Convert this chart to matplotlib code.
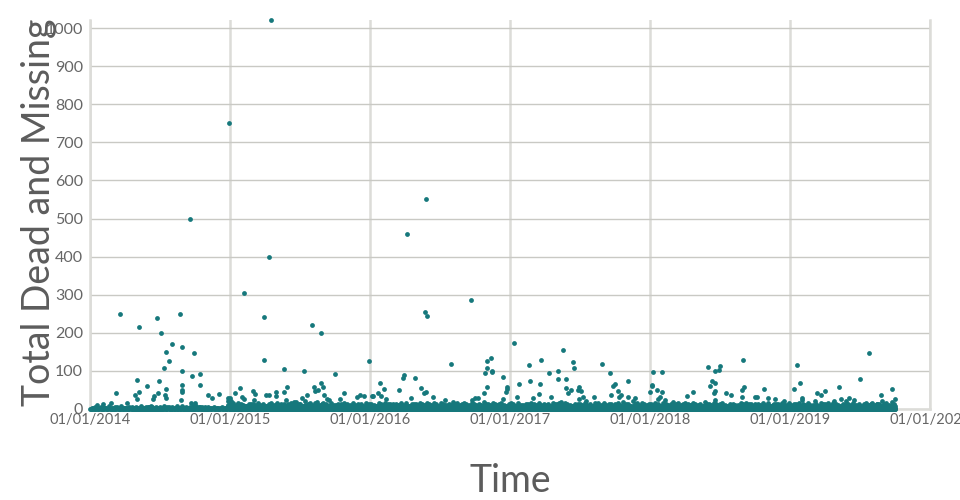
import calendar
import datetime as dt
import matplotlib
matplotlib.use("Agg")
import matplotlib.pyplot as plt
import matplotlib.dates as mdates

plt.rcParams['font.family'] = ['Lato', 'DejaVu Sans']

# ---------------- data ----------------
# individual incidents with larger totals (date, total dead and missing)
outlier_dates = [
    "2014-01-18", "2014-02-05", "2014-02-24", "2014-03-09", "2014-03-21", "2014-04-07",
    "2014-04-28", "2014-05-03", "2014-05-04", "2014-05-08", "2014-05-10", "2014-05-30",
    "2014-06-14", "2014-06-17", "2014-06-25", "2014-06-28", "2014-06-30", "2014-07-05",
    "2014-07-12", "2014-07-15", "2014-07-17", "2014-07-17", "2014-07-18", "2014-07-27",
    "2014-08-03", "2014-08-23", "2014-08-27", "2014-08-28", "2014-08-29", "2014-08-29",
    "2014-08-29", "2014-08-30", "2014-09-20", "2014-09-22", "2014-09-23", "2014-09-28",
    "2014-10-01", "2014-10-14", "2014-10-16", "2014-10-19", "2014-11-04", "2014-11-14",
    "2014-12-03", "2014-12-28", "2014-12-28", "2014-12-28", "2014-12-30",
    "2015-01-02", "2015-01-02", "2015-01-03", "2015-01-03", "2015-01-14", "2015-01-28",
    "2015-02-01", "2015-02-07", "2015-02-07", "2015-03-02", "2015-03-04", "2015-03-07",
    "2015-03-30", "2015-03-30", "2015-04-06", "2015-04-12", "2015-04-14", "2015-04-18",
    "2015-04-30", "2015-05-02", "2015-05-22", "2015-05-23", "2015-05-28", "2015-05-31",
    "2015-06-18", "2015-07-07", "2015-07-14", "2015-07-22", "2015-08-03", "2015-08-08",
    "2015-08-12", "2015-08-17", "2015-08-20", "2015-08-26", "2015-08-26", "2015-08-31",
    "2015-09-04", "2015-09-10", "2015-09-16", "2015-10-03", "2015-10-15", "2015-10-25",
    "2015-11-29", "2015-12-07", "2015-12-16", "2015-12-30",
    "2016-01-06", "2016-01-09", "2016-01-21", "2016-01-28", "2016-01-31", "2016-02-06",
    "2016-02-13", "2016-03-18", "2016-03-27", "2016-03-30", "2016-04-08", "2016-04-16",
    "2016-04-27", "2016-05-13", "2016-05-21", "2016-05-24", "2016-05-26", "2016-05-27",
    "2016-05-28", "2016-06-13", "2016-07-15", "2016-07-31", "2016-08-04", "2016-09-21",
    "2016-09-23", "2016-10-02", "2016-10-10", "2016-10-24", "2016-10-26", "2016-11-01",
    "2016-11-01", "2016-11-02", "2016-11-13", "2016-11-14", "2016-11-15", "2016-12-12",
    "2016-12-14", "2016-12-20", "2016-12-23", "2016-12-24",
    "2017-01-12", "2017-01-19", "2017-01-23", "2017-02-19", "2017-02-21", "2017-03-02",
    "2017-03-16", "2017-03-21", "2017-03-23", "2017-04-13", "2017-04-18", "2017-05-07",
    "2017-05-07", "2017-05-14", "2017-05-19", "2017-05-26", "2017-05-27", "2017-05-31",
    "2017-06-09", "2017-06-15", "2017-06-17", "2017-06-27", "2017-06-29", "2017-06-30",
    "2017-07-05", "2017-07-09", "2017-07-17", "2017-08-08", "2017-08-10", "2017-08-29",
    "2017-09-19", "2017-09-21", "2017-09-27", "2017-10-02", "2017-10-08", "2017-10-13",
    "2017-10-16", "2017-11-03", "2017-11-05", "2017-11-22", "2017-12-31",
    "2018-01-05", "2018-01-05", "2018-01-08", "2018-01-18", "2018-01-22", "2018-01-26",
    "2018-01-31", "2018-02-02", "2018-02-08", "2018-03-02", "2018-04-07", "2018-04-24",
    "2018-06-02", "2018-06-05", "2018-06-11", "2018-06-16", "2018-06-18", "2018-06-19",
    "2018-06-20", "2018-06-20", "2018-06-29", "2018-07-01", "2018-07-17", "2018-07-31",
    "2018-08-28", "2018-08-29", "2018-08-31", "2018-09-02", "2018-10-01", "2018-10-07",
    "2018-10-25", "2018-11-05", "2018-11-22", "2018-12-16",
    "2019-01-11", "2019-01-18", "2019-01-27", "2019-02-01", "2019-02-01", "2019-03-07",
    "2019-03-13", "2019-03-23", "2019-04-01", "2019-04-25", "2019-05-09", "2019-05-15",
    "2019-05-28", "2019-06-03", "2019-06-16", "2019-07-02", "2019-07-17", "2019-07-25",
    "2019-08-01", "2019-08-16", "2019-08-27", "2019-08-30", "2019-09-24", "2019-10-03",
]
outlier_values = [
    10, 13, 15, 42, 250, 15,
    38, 26, 75, 45, 216, 60,
    27, 34, 239, 43, 73, 199,
    108, 38, 150, 28, 52, 127,
    171, 250, 24, 62, 99, 50,
    45, 162, 500, 17, 87, 148,
    17, 62, 93, 6, 36, 28,
    39, 28, 20, 10, 750,
    28, 15, 22, 12, 43, 55,
    32, 305, 27, 48, 24, 39,
    241, 128, 38, 400, 38, 1022,
    34, 44, 45, 104, 24, 58,
    19, 28, 99, 38, 220, 58,
    46, 18, 50, 200, 69, 59,
    36, 25, 24, 93, 25, 41,
    32, 36, 34, 125,
    34, 34, 43, 68, 34, 53,
    26, 50, 82, 88, 459, 30,
    82, 55, 43, 254, 550, 45,
    243, 32, 24, 118, 18, 286,
    24, 28, 28, 41, 95, 126,
    108, 58, 133, 97, 100, 85,
    27, 45, 59, 52,
    174, 31, 66, 116, 73, 28,
    40, 66, 128, 95, 32, 100,
    80, 19, 154, 80, 54, 43,
    50, 124, 108, 50, 27, 57,
    46, 32, 21, 32, 17, 118,
    95, 36, 60, 66, 46, 31,
    38, 73, 32, 28, 45,
    61, 62, 98, 50, 27, 32,
    98, 45, 24, 19, 34, 45,
    109, 60, 74, 41, 68, 47,
    101, 24, 102, 113, 42, 36,
    50, 31, 129, 59, 32, 32,
    52, 28, 26, 20,
    52, 115, 67, 28, 23, 22,
    43, 38, 48, 21, 57, 27,
    21, 30, 24, 80, 14, 148,
    14, 13, 38, 22, 52, 26,
]

# dense low-value incidents: one string per month, char position = day of month,
# char = value in base 36 ('.' = no incident recorded on that layer)
low_2014_a = [
    "0.1..0.2.0..1.0.3..0.1..0..2.0.", ".0..1.0..2.0.1..0..3.0.1..0.2..",
    "0.2.0..1.0.4..0.1.0..2.0..1.0.3", ".1.0.2..0.1.0..3.0.1..0.2.0.1..",
    "0.1.0.2.0.1.0.3.0.1.0.2.0.1.0.4", "1.0.2.0.1.0.5.0.1.0.2.0.1.0.3..",
    "0.1.0.2.0.1.0.3.0.1.0.2.0.4.0.1", "1.0.2.0.1.0.3.0.1.0.2.0.1.0.5.0",
    "0.1.0.2.0.1.0.3.0.1.0.2.0.1.0..", "1.0.2.0.1.0.4.0.1.0.2.0.1.0.3.0",
    "0..1.0..2.0.1..0..3.0.1..0.2.0.", ".0.1..0.2.0..1.0.3..0.1.0..2.0.",
]
low_2014_b = [
    "....3.......5.......2.......6...", "..4.......2.......7.......3.....",
    "......5.......3.......8.......2.", "...2.......6.......4.......3....",
    ".5.....3.....7.....2.....6.....", "...4.....8.....3.....5.....2...",
    ".6.....3.....9.....4.....2.....", "...5.....3.....7.....2.....8...",
    ".3.....6.....2.....4.....7.....", "...7.....2.....5.....3.....6...",
    "....4.......2.......6.......3..", "..3.......5.......2.......8....",
]
low_2015_a = [
    "0102013021030120301201402103012", "1020301240120302103012031020130",
    "0130201203102401302012031024013", "2010320140213021031204013201302",
    "0203102401302130201403120201301", "1302014021302013024012031024013",
    "0210302140123021030412031020143", "3012041302102403120130420130210",
    "0140213020314021302013204102301", "2031024013021040213021302410230",
    "1024013020314020130241023014020", "0312042013024103201402130201340",
]
low_2015_b = [
    "5.7.4.9.6.3.8.5.7.4.6.9.3.5.8.4", ".6.4.8.5.3.7.9.4.6.5.8.3.7.4.6.",
    "7.5.9.4.6.8.3.5.7.4.9.6.5.8.3.6", ".4.8.6.3.7.5.9.4.6.8.5.3.7.6.4.",
    "6.9.5.7.4.8.3.6.a.5.7.4.9.6.5.8", ".5.8.4.a.6.3.7.5.9.4.8.6.3.7.5.",
    "8.4.7.5.9.6.3.a.5.7.4.8.6.9.5.4", ".7.5.9.4.8.6.b.5.3.7.9.4.6.8.5.",
    "6.4.8.5.a.7.3.6.9.5.4.8.7.5.3.6", ".5.7.4.9.6.3.8.5.a.4.7.6.9.3.5.",
    "4.8.6.3.7.5.9.4.6.8.5.3.7.4.6.9", ".6.4.8.5.3.9.6.4.7.5.8.3.6.9.4.",
]
low_2015_c = [
    "..c.....f.......a.....h......e.", "....b......9.......e.....c.....",
    ".e.....a......g.....b.......d..", "...9.......c.....f......a....b.",
    "..h.....b.....e......c.....9...", ".c......f.....a.......i.....d..",
    "...e.....9......k.....c.....f..", "..b......h.....d.......a....e..",
    ".f.....c......9.....g.......b..", "...a......e.....c.......h....9.",
    "..d.....a.......f.....b......c.", ".b......e.....9.......g.....c..",
]
low_2016_a = [
    "1030201402130201302410230120310", "0201302140231020140213020130240",
    "2013024013021304102301402130201", "0301402130201340210320140231020",
    "1204013021302410230142013021304", "0213024102301420130213021402301",
    "3020140231021304120301402130201", "0140230120314021302014023102301",
    "2031020140213021302410320140213", "0120341023012031402130201302410",
    "1302013024102301402130201402130", "0201402130201302410230140213020",
]
low_2016_b = [
    ".7.4.9.5.3.8.6.4.7.5.9.3.6.8.5.", "6.4.8.5.7.3.9.6.4.a.5.7.8.4.6.3",
    ".5.9.6.4.8.3.7.5.a.6.4.8.5.7.9.", "8.5.3.7.6.9.4.5.8.6.3.7.a.5.4.6",
    ".6.8.4.7.5.9.3.6.b.5.7.4.8.6.5.", "5.7.4.9.6.3.8.5.7.4.6.9.3.5.8.4",
    ".4.7.5.8.6.a.4.7.5.3.9.6.8.4.7.", "7.5.9.4.6.8.3.5.7.4.9.6.5.8.3.6",
    ".6.4.8.5.3.7.9.4.6.5.8.3.7.4.6.", "5.9.6.4.8.3.7.5.a.6.4.8.5.7.9.4",
    ".8.5.3.7.6.9.4.5.8.6.3.7.a.5.4.", "6.4.7.5.9.3.6.8.5.4.7.6.9.3.5.8",
]
low_2016_c = [
    "...e......b.....9.......f....c.", "..a.....g......c.....d......9..",
    ".c......e.....a......h.....b...", "....f.....9.......d.....c....e.",
    "..b......h.....e......a.....f..", ".d.....a......f......c.....9...",
    "...g......c.....b.......e....a.", "..9.....e......h.....b......d..",
    ".f......c.....a.......g....e...", "....b.....e.......9.....i....c.",
    "..c......a.....f......d.....b..", ".e.....g......b......9.....c...",
]
low_2017_a = [
    "2010320140213021031204013201302", "0203102401302130201403120201301",
    "1302014021302013024012031024013", "0210302140123021030412031020143",
    "3012041302102403120130420130210", "0140213020314021302013204102301",
    "2031024013021040213021302410230", "1024013020314020130241023014020",
    "0312042013024103201402130201340", "0102013021030120301201402103012",
    "1020301240120302103012031020130", "0130201203102401302012031024013",
]
low_2017_b = [
    ".5.8.4.a.6.3.7.5.9.4.8.6.3.7.5.", "8.4.7.5.9.6.3.a.5.7.4.8.6.9.5.4",
    ".7.5.9.4.8.6.b.5.3.7.9.4.6.8.5.", "6.4.8.5.a.7.3.6.9.5.4.8.7.5.3.6",
    ".5.7.4.9.6.3.8.5.a.4.7.6.9.3.5.", "4.8.6.3.7.5.9.4.6.8.5.3.7.4.6.9",
    ".6.4.8.5.3.9.6.4.7.5.8.3.6.9.4.", "5.7.4.9.6.3.8.5.7.4.6.9.3.5.8.4",
    ".6.4.8.5.3.7.9.4.6.5.8.3.7.4.6.", "7.5.9.4.6.8.3.5.7.4.9.6.5.8.3.6",
    ".4.8.6.3.7.5.9.4.6.8.5.3.7.6.4.", "6.9.5.7.4.8.3.6.a.5.7.4.9.6.5.8",
]
low_2017_c = [
    ".f.....c......9.....g.......b..", "...a......e.....c.......h....9.",
    "..d.....a.......f.....b......c.", ".b......e.....9.......g.....c..",
    "..c.....f.......a.....h......e.", "....b......9.......e.....c.....",
    ".e.....a......g.....b.......d..", "...9.......c.....f......a....b.",
    "..h.....b.....e......c.....9...", ".c......f.....a.......i.....d..",
    "...e.....9......k.....c.....f..", "..b......h.....d.......a....e..",
]
low_2018_a = [
    "0213024102301420130213021402301", "3020140231021304120301402130201",
    "0140230120314021302014023102301", "2031020140213021302410320140213",
    "0120341023012031402130201302410", "1302013024102301402130201402130",
    "0201402130201302410230140213020", "1030201402130201302410230120310",
    "0201302140231020140213020130240", "2013024013021304102301402130201",
    "0301402130201340210320140231020", "1204013021302410230142013021304",
]
low_2018_b = [
    ".4.7.5.8.6.a.4.7.5.3.9.6.8.4.7.", "7.5.9.4.6.8.3.5.7.4.9.6.5.8.3.6",
    ".6.4.8.5.3.7.9.4.6.5.8.3.7.4.6.", "5.9.6.4.8.3.7.5.a.6.4.8.5.7.9.4",
    ".8.5.3.7.6.9.4.5.8.6.3.7.a.5.4.", "6.4.7.5.9.3.6.8.5.4.7.6.9.3.5.8",
    ".7.4.9.5.3.8.6.4.7.5.9.3.6.8.5.", "6.4.8.5.7.3.9.6.4.a.5.7.8.4.6.3",
    ".5.9.6.4.8.3.7.5.a.6.4.8.5.7.9.", "8.5.3.7.6.9.4.5.8.6.3.7.a.5.4.6",
    ".6.8.4.7.5.9.3.6.b.5.7.4.8.6.5.", "5.7.4.9.6.3.8.5.7.4.6.9.3.5.8.4",
]
low_2018_c = [
    ".d.....a......f......c.....9...", "...g......c.....b.......e....a.",
    "..9.....e......h.....b......d..", ".f......c.....a.......g....e...",
    "....b.....e.......9.....i....c.", "..c......a.....f......d.....b..",
    ".e.....g......b......9.....c...", "...e......b.....9.......f....c.",
    "..a.....g......c.....d......9..", ".c......e.....a......h.....b...",
    "....f.....9.......d.....c....e.", "..b......h.....e......a.....f..",
]
low_2019_a = [
    "0312042013024103201402130201340", "1024013020314020130241023014020",
    "2031024013021040213021302410230", "0140213020314021302013204102301",
    "3012041302102403120130420130210", "0210302140123021030412031020143",
    "1302014021302013024012031024013", "0203102401302130201403120201301",
    "2010320140213021031204013201302", "021",
]
low_2019_b = [
    "6.9.5.7.4.8.3.6.a.5.7.4.9.6.5.8", ".4.8.6.3.7.5.9.4.6.8.5.3.7.6.4.",
    "7.5.9.4.6.8.3.5.7.4.9.6.5.8.3.6", ".6.4.8.5.3.7.9.4.6.5.8.3.7.4.6.",
    "5.7.4.9.6.3.8.5.7.4.6.9.3.5.8.4", ".6.4.8.5.3.9.6.4.7.5.8.3.6.9.4.",
    "4.8.6.3.7.5.9.4.6.8.5.3.7.4.6.9", ".5.7.4.9.6.3.8.5.a.4.7.6.9.3.5.",
    "6.4.8.5.a.7.3.6.9.5.4.8.7.5.3.6", ".7.",
]
low_2019_c = [
    "...a......e.....c.......h....9.", "..d.....a.......f.....b......c.",
    ".b......e.....9.......g.....c..", "..c.....f.......a.....h......e.",
    "....b......9.......e.....c.....", ".e.....a......g.....b.......d..",
    "...9.......c.....f......a....b.", "..h.....b.....e......c.....9...",
    ".c......f.....a.......i.....d..", "",
]

low_layers = {
    2014: [low_2014_a, low_2014_b],
    2015: [low_2015_a, low_2015_b, low_2015_c],
    2016: [low_2016_a, low_2016_b, low_2016_c],
    2017: [low_2017_a, low_2017_b, low_2017_c],
    2018: [low_2018_a, low_2018_b, low_2018_c],
    2019: [low_2019_a, low_2019_b, low_2019_c],
}

year_ticks = ["2014-01-01", "2015-01-01", "2016-01-01", "2017-01-01",
              "2018-01-01", "2019-01-01", "2020-01-01"]
y_ticks = [0, 100, 200, 300, 400, 500, 600, 700, 800, 900, 1000]

# ---------------- assemble ----------------
dates, values = [], []
for year, layers in low_layers.items():
    for layer in layers:
        for m, s in enumerate(layer):
            ndays = calendar.monthrange(year, m + 1)[1]
            for i, ch in enumerate(s):
                if i + 1 > ndays:
                    break
                if ch == '.':
                    continue
                dates.append(dt.date(year, m + 1, i + 1))
                values.append(int(ch, 36))
for d, v in zip(outlier_dates, outlier_values):
    dates.append(dt.date.fromisoformat(d))
    values.append(v)

# ---------------- plot ----------------
teal = "#16787c"
text_col = "#666666"

fig = plt.figure(figsize=(9.6, 5.0), dpi=100)
ax = fig.add_axes([90 / 960, 1 - 409 / 500, 840 / 960, 389 / 500])

ax.scatter(dates, values, s=12, color=teal, linewidths=0, zorder=3, clip_on=False)

xt = [dt.date.fromisoformat(t) for t in year_ticks]
ax.set_xlim(xt[0], xt[-1])
ax.set_ylim(0, 1021)
ax.set_xticks(xt)
ax.xaxis.set_major_formatter(mdates.DateFormatter('%d/%m/%Y'))
ax.set_yticks(y_ticks)

ax.grid(axis='y', color='#c9c9c4', linewidth=1.0, zorder=0)
ax.grid(axis='x', color='#dcdcd8', linewidth=1.8, zorder=0)
ax.set_axisbelow(True)

ax.spines['top'].set_visible(False)
for side in ['left', 'right', 'bottom']:
    ax.spines[side].set_color('#dcdcd8')
    ax.spines[side].set_linewidth(1.8)

ax.tick_params(axis='both', length=0, labelcolor=text_col)
ax.tick_params(axis='x', pad=3, labelsize=10.5)
ax.tick_params(axis='y', pad=5, labelsize=11.5)

ax.set_xlabel("Time", fontsize=27, color='#5c5c5c')
ax.xaxis.set_label_coords(0.5, -0.138)
ax.set_ylabel("Total Dead and Missing", fontsize=27, color='#5c5c5c')
ax.yaxis.set_label_coords(-0.039, 0.505)

fig.savefig("out.png", dpi=100)
